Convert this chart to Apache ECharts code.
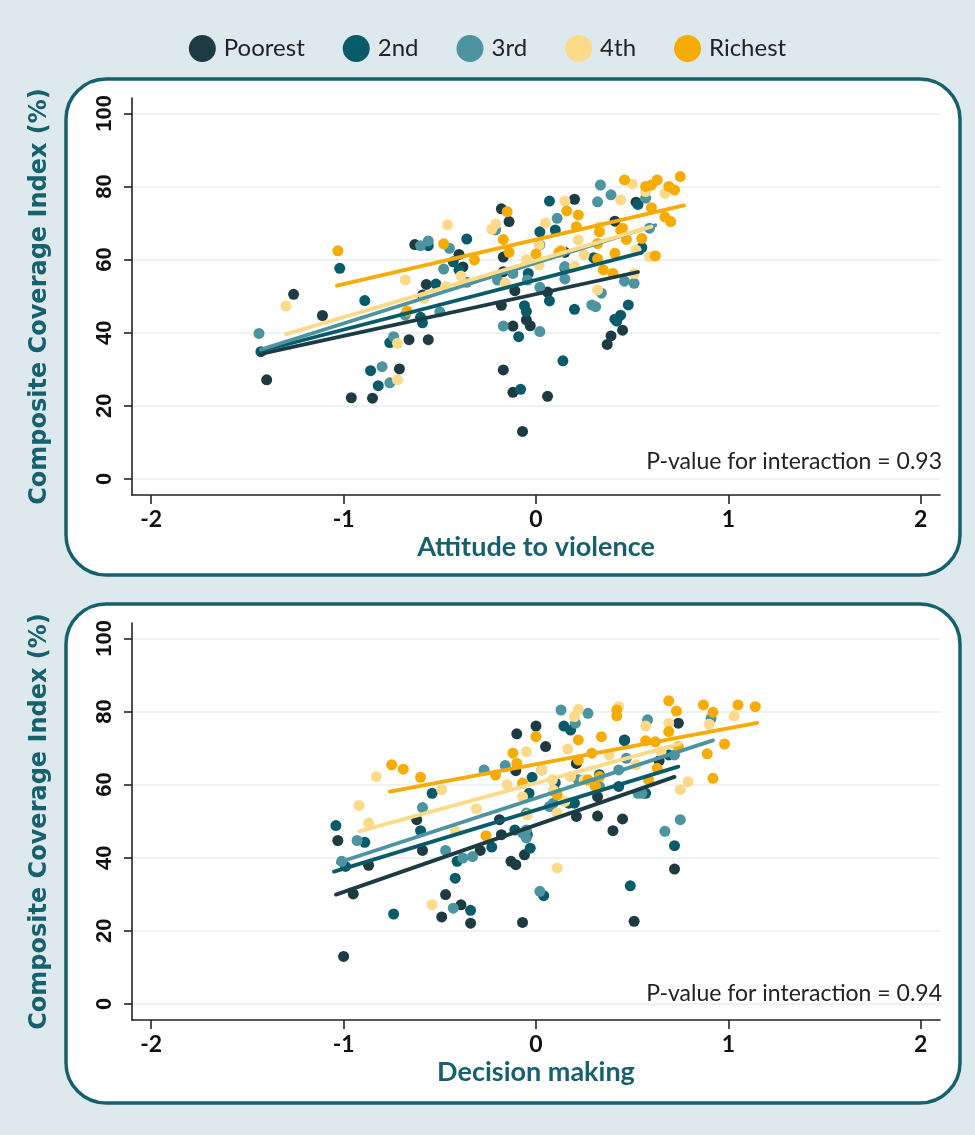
<!DOCTYPE html>
<html>
<head>
<meta charset="utf-8">
<script src="https://cdn.jsdelivr.net/npm/echarts@6/dist/echarts.min.js"></script>
<style>
  html, body { margin: 0; padding: 0; background: #dde9ec; }
  #chart { width: 975px; height: 1135px; }
</style>
</head>
<body>
<div id="chart"></div>
<script>
// ---------- data ----------
const groups = ['Poorest', '2nd', '3rd', '4th', 'Richest'];
const xTicks = [-2, -1, 0, 1, 2];
const yTicks = [0, 20, 40, 60, 80, 100];
const xTitleTop = 'Attitude to violence';
const xTitleBottom = 'Decision making';
const yTitle = 'Composite Coverage Index (%)';
const pTextTop = 'P-value for interaction = 0.93';
const pTextBottom = 'P-value for interaction = 0.94';

// Top panel: attitude to violence
const topPoorest = [[-1.40,27.1],[-1.26,50.5],[-1.11,44.7],[-0.96,22.2],[-0.85,22.1],[-0.71,30.1],[-0.66,38.1],[-0.56,38.1],[-0.63,64.1],[-0.57,53.2],[-0.59,50.3],[-0.40,61.4],[-0.38,58.0],[-0.18,73.9],[-0.14,70.4],[-0.17,60.7],[-0.17,56.7],[-0.11,51.5],[-0.18,47.5],[-0.12,41.8],[-0.17,29.8],[-0.12,23.7],[-0.03,41.9],[0.06,22.6],[-0.07,13.0],[0.37,36.8],[0.39,39.1],[0.45,40.7],[0.06,51.1],[0.20,76.5],[0.41,70.5],[0.52,75.7],[-0.05,43.5],[0.15,62.0]];
const top2nd = [[-1.02,57.6],[-0.89,48.8],[-0.86,29.6],[-0.82,25.5],[-0.76,37.3],[-0.60,44.2],[-0.59,42.7],[-0.56,63.8],[-0.52,53.3],[-0.36,65.6],[-0.43,59.4],[-0.40,57.2],[-0.06,47.4],[-0.05,45.8],[-0.09,38.9],[-0.08,24.5],[0.07,48.7],[0.20,46.4],[0.14,32.3],[0.42,43.2],[0.44,44.8],[0.48,47.6],[-0.04,56.2],[0.02,67.6],[0.10,68.1],[0.15,57.6],[0.53,75.1],[0.55,63.3],[0.07,76.0],[0.41,43.7],[-1.43,34.8],[0.30,60.5]];
const top3rd = [[-1.44,39.8],[-0.80,30.7],[-0.76,26.3],[-0.74,38.9],[-0.68,44.8],[-0.60,63.8],[-0.56,65.1],[-0.48,57.4],[-0.50,45.7],[-0.45,63.1],[-0.36,53.8],[-0.21,68.1],[-0.17,41.8],[-0.20,54.4],[-0.12,56.2],[0.02,40.3],[0.29,47.6],[0.31,47.1],[0.02,52.4],[0.15,54.7],[0.34,50.8],[0.46,54.1],[0.51,53.5],[0.335,80.4],[0.32,75.8],[0.39,77.7],[0.11,71.3],[0.57,76.8],[0.59,68.6],[0.02,64.0],[-0.045,54.4],[0.15,58.1]];
const top4th = [[-1.30,47.3],[-0.72,37.1],[-0.72,27.1],[-0.68,54.4],[-0.58,49.4],[-0.47,52.6],[-0.46,69.5],[-0.23,68.3],[-0.21,69.7],[-0.16,53.5],[-0.39,55.5],[0.15,76.0],[0.44,76.3],[0.50,80.7],[0.57,78.6],[0.016,64.0],[0.13,62.6],[0.22,65.4],[0.25,61.3],[0.016,58.5],[0.20,58.2],[0.33,69.0],[0.52,62.6],[0.59,60.8],[0.51,56.2],[0.32,51.7],[0.67,78.1],[0.62,61.0],[0.05,70.0],[-0.05,60.0]];
const topRichest = [[-1.03,62.4],[-0.67,45.9],[-0.48,64.3],[-0.32,59.9],[-0.15,73.1],[-0.17,65.5],[-0.14,62.0],[0.16,73.3],[0.12,62.0],[0.00,61.5],[0.21,69.0],[0.22,72.2],[0.32,64.4],[0.32,60.2],[0.35,57.2],[0.41,61.7],[0.45,68.6],[0.47,65.5],[0.55,65.8],[0.60,74.2],[0.46,81.8],[0.60,80.4],[0.63,81.8],[0.69,80.0],[0.72,79.0],[0.75,82.7],[0.67,71.7],[0.70,70.4],[0.33,67.6],[0.44,68.1],[0.62,61.0],[0.40,56.2],[0.57,80.0],[0.13,62.2]];

// Top panel fitted lines (start, end)
const topFitPoorest = [[-1.43,34.2],[0.53,56.6]];
const topFit2nd = [[-1.43,35.0],[0.55,61.9]];
const topFit3rd = [[-1.43,35.4],[0.62,69.4]];
const topFit4th = [[-1.30,39.6],[0.60,69.0]];
const topFitRichest = [[-1.035,52.9],[0.77,74.8]];

// Bottom panel: decision making
const botPoorest = [[-1.00,13.0],[-1.03,44.7],[-0.95,30.1],[-0.87,37.9],[-0.59,42.0],[-0.62,50.4],[-0.49,23.8],[-0.47,29.9],[-0.39,27.1],[-0.34,22.1],[-0.29,42.0],[-0.19,50.4],[-0.18,46.3],[-0.13,39.0],[-0.105,38.1],[-0.10,73.9],[-0.105,63.8],[-0.07,22.3],[-0.06,40.8],[0.40,47.4],[0.51,22.6],[0.72,36.9],[0.32,51.4],[0.45,50.6],[0.0,76.0],[0.05,70.4],[0.21,65.8],[0.46,72.2],[0.32,56.7],[0.21,51.3],[0.74,76.8],[0.64,66.5],[0.10,58.0]];
const bot2nd = [[-1.04,48.8],[-0.89,44.2],[-0.99,37.6],[-0.74,24.6],[-0.54,57.6],[-0.60,47.4],[-0.42,34.4],[-0.41,39.0],[-0.34,25.6],[-0.23,42.9],[-0.11,47.6],[-0.045,46.3],[-0.03,42.6],[0.04,29.6],[0.49,32.3],[0.72,43.3],[0.145,76.0],[0.18,74.9],[-0.036,57.6],[0.20,54.9],[0.31,59.6],[0.43,59.5],[0.57,57.6],[0.46,72.0],[0.33,62.7],[0.69,68.1],[0.17,54.9],[-0.02,62.0],[0.10,60.5]];
const bot3rd = [[-1.01,39.0],[-0.93,44.7],[-0.59,53.7],[-0.47,42.0],[-0.43,26.2],[-0.38,39.9],[-0.33,40.3],[-0.27,64.0],[-0.16,65.2],[-0.07,46.7],[-0.05,45.4],[0.02,30.8],[0.67,47.2],[0.75,50.4],[0.13,80.4],[0.27,79.5],[0.58,77.7],[0.91,78.1],[0.03,64.0],[0.43,64.0],[0.53,57.6],[0.09,54.9],[-0.05,52.2],[0.205,76.8],[0.47,67.2],[0.72,68.1],[0.22,61.3],[0.33,59.5],[0.55,57.6],[0.07,54.0],[-0.05,47.6]];
const bot4th = [[-0.83,62.2],[-0.92,54.3],[-0.87,49.5],[-0.49,58.6],[-0.54,27.1],[-0.42,47.4],[-0.31,53.4],[0.11,37.2],[0.22,80.6],[0.20,78.6],[0.43,81.3],[-0.05,69.0],[0.165,69.7],[0.03,64.0],[0.085,61.3],[0.18,62.2],[-0.07,56.7],[0.09,58.5],[0.15,55.4],[0.25,61.3],[0.38,68.1],[0.52,65.4],[0.57,76.0],[0.69,76.8],[0.75,58.6],[0.79,60.8],[0.90,76.5],[1.03,78.8],[0.65,69.0],[0.11,52.2],[-0.045,51.7],[-0.15,60.0]];
const botRichest = [[-0.75,65.4],[-0.69,64.2],[-0.60,62.0],[-0.26,46.0],[-0.21,62.6],[-0.12,68.6],[-0.10,65.8],[0.0,73.1],[0.22,72.2],[0.34,73.1],[0.42,80.4],[0.42,78.8],[0.69,82.9],[0.73,80.1],[0.87,81.8],[0.92,79.8],[1.05,81.8],[1.14,81.3],[0.98,71.1],[0.89,68.4],[0.92,61.7],[0.69,74.5],[0.74,70.4],[0.57,72.0],[0.62,71.7],[0.63,64.5],[0.585,61.3],[-0.07,60.4],[0.11,57.2],[0.27,61.3],[0.31,59.5],[0.33,62.2],[0.29,68.6],[0.22,66.7]];

// Bottom panel fitted lines (start, end)
const botFitPoorest = [[-1.04,29.9],[0.72,62.1]];
const botFit2nd = [[-1.05,36.2],[0.74,64.9]];
const botFit3rd = [[-1.03,38.6],[0.92,72.1]];
const botFit4th = [[-0.92,47.2],[0.75,71.2]];
const botFitRichest = [[-0.76,58.1],[1.15,76.9]];

// ---------- styling ----------
const colors = ['#1c3b42', '#0a5b6a', '#4b94a0', '#fdd98a', '#f6ab05'];
const teal = '#17606e';
const tickFont = 'Liberation Sans, Arial, sans-serif';
const narrowFont = 'Lato, "Open Sans", sans-serif';

const topScatter = [topPoorest, top2nd, top3rd, top4th, topRichest];
const topFits = [topFitPoorest, topFit2nd, topFit3rd, topFit4th, topFitRichest];
const botScatter = [botPoorest, bot2nd, bot3rd, bot4th, botRichest];
const botFits = [botFitPoorest, botFit2nd, botFit3rd, botFit4th, botFitRichest];

function xAxisFor(gridIndex, title) {
  return {
    gridIndex, type: 'value', min: -2.1, max: 2.1,
    name: title, nameLocation: 'middle', nameGap: 39,
    nameTextStyle: { color: teal, fontFamily: narrowFont, fontWeight: 'bold', fontSize: 27 },
    axisLine: { show: true, onZero: false, lineStyle: { color: '#222', width: 1.6 } },
    axisTick: { show: true, customValues: xTicks, length: 9, lineStyle: { color: '#222', width: 1.6 } },
    axisLabel: { customValues: xTicks, color: '#111', fontFamily: narrowFont, fontWeight: 'bold', fontSize: 23, margin: 13 },
    splitLine: { show: false }
  };
}
function yAxisFor(gridIndex) {
  return {
    gridIndex, type: 'value', min: -4.4, max: 104.2,
    name: yTitle, nameLocation: 'middle', nameGap: 80, nameRotate: 90,
    nameTextStyle: { color: teal, fontFamily: 'DejaVu Sans, sans-serif', fontWeight: 'bold', fontSize: 24 },
    axisLine: { show: true, onZero: false, lineStyle: { color: '#222', width: 1.6 } },
    axisTick: { show: true, customValues: yTicks, length: 8, lineStyle: { color: '#222', width: 1.6 } },
    axisLabel: { customValues: yTicks, rotate: 90, color: '#111', fontFamily: tickFont, fontWeight: 'bold', fontSize: 22, margin: 16 },
    splitLine: { show: true, lineStyle: { color: '#edf3f4', width: 2 } }
  };
}

const series = [];
function addPanel(scatters, fits, axisIndex) {
  scatters.forEach((d, i) => {
    series.push({
      name: groups[i], type: 'scatter', xAxisIndex: axisIndex, yAxisIndex: axisIndex,
      data: d, symbol: 'circle', symbolSize: 11,
      itemStyle: { color: colors[i], opacity: 1 }, z: 2 + i * 0.1,
      emphasis: { disabled: true }
    });
  });
  fits.forEach((d, i) => {
    series.push({
      name: groups[i], type: 'line', xAxisIndex: axisIndex, yAxisIndex: axisIndex,
      data: d, showSymbol: false, symbol: 'none',
      lineStyle: { color: colors[i], width: 3.8, cap: 'round' },
      itemStyle: { color: colors[i] }, z: 4 + i * 0.1,
      emphasis: { disabled: true }
    });
  });
}
addPanel(topScatter, topFits, 0);
addPanel(botScatter, botFits, 1);

const chart = echarts.init(document.getElementById('chart'), null, { renderer: 'canvas' });
chart.setOption({
  backgroundColor: '#dde9ec',
  animation: false,
  color: colors,
  graphic: [
    { type: 'rect', z: -10, shape: { x: 66, y: 79, width: 894, height: 496, r: 40 },
      style: { fill: '#ffffff', stroke: teal, lineWidth: 3.5 } },
    { type: 'rect', z: -10, shape: { x: 66, y: 604, width: 894, height: 499, r: 40 },
      style: { fill: '#ffffff', stroke: teal, lineWidth: 3.5 } }
  ],
  title: [
    { text: pTextTop, right: 33, top: 450, padding: 0,
      textStyle: { fontFamily: narrowFont, fontWeight: 'normal', fontSize: 23, color: '#222' } },
    { text: pTextBottom, right: 33, top: 982, padding: 0,
      textStyle: { fontFamily: narrowFont, fontWeight: 'normal', fontSize: 23, color: '#222' } }
  ],
  legend: {
    top: 30, left: 'center',
    data: groups.map(g => ({ name: g, icon: 'circle' })),
    itemWidth: 27, itemHeight: 27, itemGap: 38,
    textStyle: { fontFamily: narrowFont, fontSize: 24, color: '#222', padding: [0, 0, 0, 3] }
  },
  grid: [
    { left: 132, right: 35, top: 98, height: 397, outerBoundsMode: 'none', containLabel: false },
    { left: 132, right: 35, top: 623, height: 397, outerBoundsMode: 'none', containLabel: false }
  ],
  xAxis: [xAxisFor(0, xTitleTop), xAxisFor(1, xTitleBottom)],
  yAxis: [yAxisFor(0), yAxisFor(1)],
  series
});
</script>
</body>
</html>
